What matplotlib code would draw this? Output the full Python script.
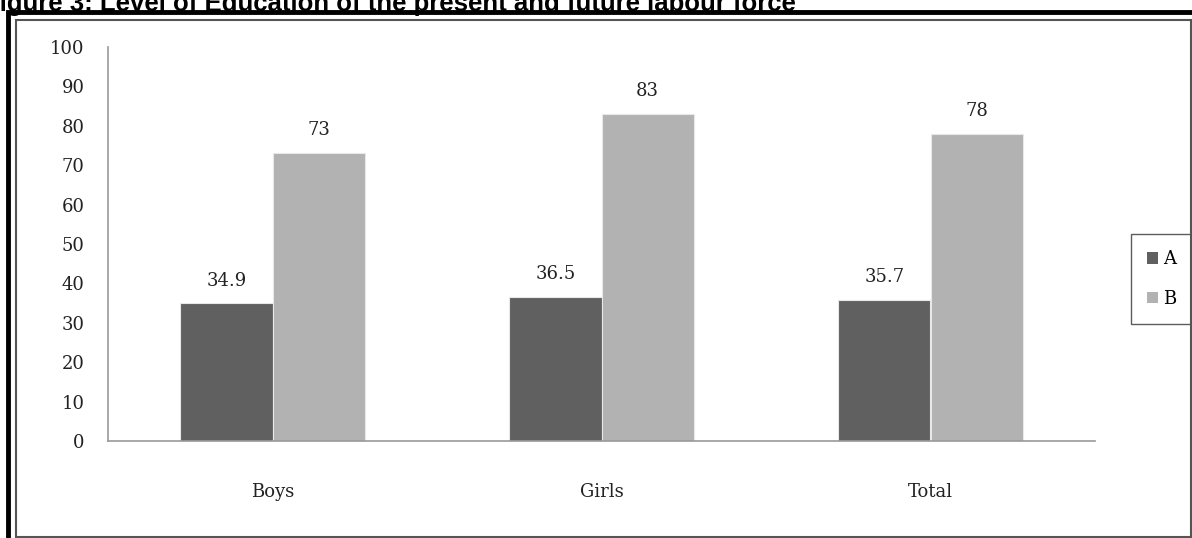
import matplotlib.pyplot as plt
import numpy as np
from matplotlib.patches import Rectangle

categories = ['Boys', 'Girls', 'Total']
series_a = [34.9, 36.5, 35.7]
series_b = [73, 83, 78]
series_names = ['A', 'B']
yticks = list(range(0, 101, 10))

color_a = '#606060'
color_b = '#b2b2b2'

fig = plt.figure(figsize=(11.92, 5.38), dpi=100)
W, H = 1192, 538

# page frame: thick black outer line, thin gray inner line
fig.patches.append(Rectangle((8 / W, -0.05), 1.2, (H - 12) / H + 0.05,
                             transform=fig.transFigure, fill=False,
                             edgecolor='black', linewidth=3.5))
fig.patches.append(Rectangle((16 / W, 1 / H), (1191 - 16) / W, (537 - 20) / H,
                             transform=fig.transFigure, fill=False,
                             edgecolor='#555555', linewidth=1.5))

# caption at the very top, clipped by the page edge as in the source
fig.text(-16 / W, 1 - 11 / H, 'Figure 3: Level of Education of the present and future labour force',
         fontsize=18.5, fontweight='bold', family='Liberation Sans',
         ha='left', va='baseline')

ax = fig.add_axes([108 / W, 1 - 441 / H, (1095 - 108) / W, (441 - 47) / H])

x = np.arange(len(categories))
w = 0.28
bars_a = ax.bar(x - w / 2, series_a, w, color=color_a, label=series_names[0],
                edgecolor='#e8e8e8', linewidth=0.8)
bars_b = ax.bar(x + w / 2, series_b, w, color=color_b, label=series_names[1],
                edgecolor='#e8e8e8', linewidth=0.8)

for bars in (bars_a, bars_b):
    for b in bars:
        v = b.get_height()
        ax.annotate(f'{v:g}', (b.get_x() + b.get_width() / 2, v),
                    xytext=(0, 10), textcoords='offset points',
                    ha='center', va='bottom', fontsize=13,
                    family='DejaVu Serif', color='#222222')

ax.set_xlim(-0.5, 2.5)
ax.set_ylim(0, 100)
ax.set_yticks(yticks)
ax.set_xticks(x)
ax.set_xticklabels(categories)
ax.tick_params(length=0, labelsize=13, colors='#222222')
ax.tick_params(axis='y', pad=17)
ax.tick_params(axis='x', pad=30)
for lbl in ax.get_xticklabels() + ax.get_yticklabels():
    lbl.set_family('DejaVu Serif')
for s in ['top', 'right']:
    ax.spines[s].set_visible(False)
for s in ['left', 'bottom']:
    ax.spines[s].set_color('#999999')
    ax.spines[s].set_linewidth(1.2)

leg = ax.legend(loc='center left', bbox_to_anchor=(1122 / W, 1 - 279 / H),
                bbox_transform=fig.transFigure, frameon=True, fancybox=False,
                handlelength=0.6, handleheight=0.6, handletextpad=0.3,
                labelspacing=1.2, borderpad=0.9, prop={'family': 'DejaVu Serif', 'size': 13})
leg.get_frame().set_edgecolor('#333333')
leg.get_frame().set_linewidth(1.0)
for p in leg.get_patches():
    p.set_edgecolor('none')

fig.savefig('out.png', dpi=100)
